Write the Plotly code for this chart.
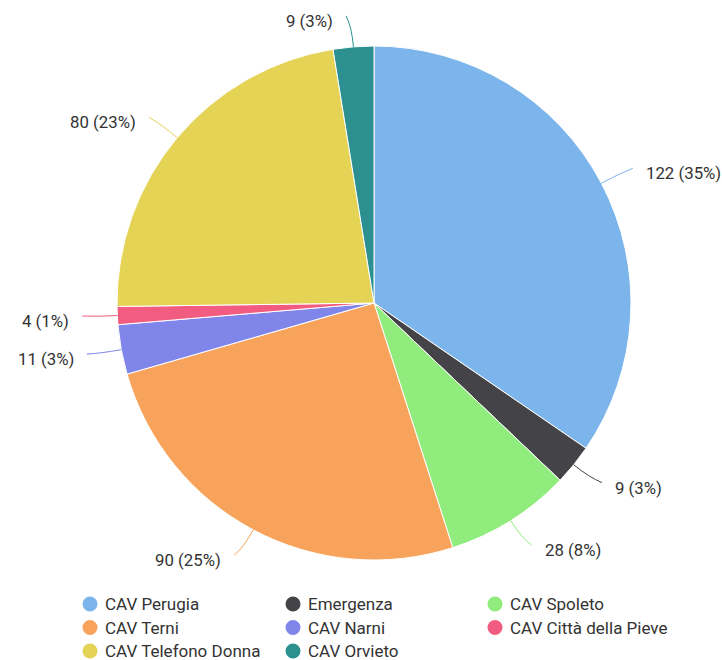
import math
import plotly.graph_objects as go

labels = ["CAV Perugia", "Emergenza", "CAV Spoleto", "CAV Terni", "CAV Narni",
          "CAV Città della Pieve", "CAV Telefono Donna", "CAV Orvieto"]
values = [122, 9, 28, 90, 11, 4, 80, 9]
colors = ["#7cb5ec", "#434348", "#90ed7d", "#f7a35c", "#8085e9",
          "#f15c80", "#e4d354", "#2b908f"]

W, H = 722, 660
CX, CY, R = 374, 303, 257  # pie centre / radius in pixels (layout)
FONT = "Roboto, Arial, sans-serif"
TXT = "#333333"

def px(x, y):
    return x / W, 1 - y / H

fig = go.Figure()
fig.add_trace(go.Pie(
    labels=labels, values=values, sort=False, direction="clockwise", rotation=0,
    marker=dict(colors=colors, line=dict(color="white", width=1)),
    textinfo="none", hoverinfo="label+value+percent", showlegend=False,
    domain=dict(x=[(CX - R) / W, (CX + R) / W], y=[1 - (CY + R) / H, 1 - (CY - R) / H]),
))

total = sum(values)
cum = 0
shapes, annos = [], []
for v, col in zip(values, colors):
    mid = (cum + v / 2) / total * 2 * math.pi
    cum += v
    s, c = math.sin(mid), math.cos(mid)
    x0, y0 = CX + R * s, CY - R * c
    x1, y1 = CX + (R + 20) * s, CY - (R + 20) * c
    side = 1 if s >= 0 else -1
    x2, y2 = CX + (R + 30) * s + side * 5, CY - (R + 30) * c - 1
    X0, Y0 = px(x0, y0)
    X1, Y1 = px(x1, y1)
    X2, Y2 = px(x2, y2)
    shapes.append(dict(type="path", xref="paper", yref="paper",
                       path=f"M {X0},{Y0} Q {X1},{Y1} {X2},{Y2}",
                       line=dict(color=col, width=1)))
    pct = round(v / total * 100)
    ax, ay = px(x2 + side * 11, y2 + 5)
    annos.append(dict(x=ax, y=ay, xref="paper", yref="paper", showarrow=False,
                      text=f"{v} ({pct}%)", xanchor="left" if side > 0 else "right",
                      yanchor="middle", font=dict(family=FONT, size=16.8, color=TXT)))

# manual legend (3 columns, circle symbols)
LEG_X = [90, 293, 495]
LEG_Y = [604, 627.5, 651]
MR = 7.5
for i, (lab, col) in enumerate(zip(labels, colors)):
    mx, my = LEG_X[i % 3], LEG_Y[i // 3]
    a0, b0 = px(mx - MR, my + MR)
    a1, b1 = px(mx + MR, my - MR)
    shapes.append(dict(type="circle", xref="paper", yref="paper",
                       x0=a0, y0=b0, x1=a1, y1=b1,
                       fillcolor=col, line=dict(width=0)))
    tx, ty = px(mx + 13, my)
    annos.append(dict(x=tx, y=ty, xref="paper", yref="paper", showarrow=False,
                      text=lab, xanchor="left", yanchor="middle",
                      font=dict(family=FONT, size=17, color=TXT)))

fig.update_layout(
    width=W, height=H, margin=dict(l=0, r=0, t=0, b=0),
    paper_bgcolor="white", plot_bgcolor="white",
    shapes=shapes, annotations=annos, showlegend=False,
    font=dict(family=FONT),
)
fig.write_html("out.html", config={"displayModeBar": False},
               post_script="document.body.style.margin='0';")
